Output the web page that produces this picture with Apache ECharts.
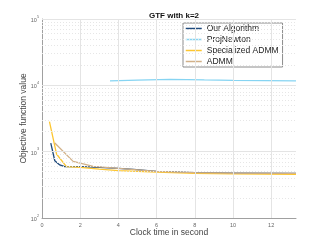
<!DOCTYPE html>
<html>
<head>
<meta charset="utf-8">
<script src="https://cdn.jsdelivr.net/npm/echarts@6/dist/echarts.min.js"></script>
<style>html,body{margin:0;padding:0;background:#fff}#c{width:327px;height:245px}</style>
</head>
<body>
<div id="c"></div>
<script>
var seriesNames = ['Our Algorithm', 'ProjNewton', 'Specialized ADMM', 'ADMM'];
var ourAlgorithm = [[0.46, 1350], [0.67, 730], [0.93, 630], [1.19, 594], [2.0, 597], [3.0, 580], [4.0, 560], [4.8, 540], [6.0, 505], [8.0, 482], [10.0, 476], [13.3, 471]];
var projNewton = [[3.56, 11650], [5.0, 12000], [6.7, 12300], [8.5, 12050], [10.0, 11900], [13.3, 11650]];
var specializedADMM = [[0.39, 2830], [0.76, 923], [1.28, 594], [2.0, 580], [3.0, 545], [4.0, 517], [6.0, 490], [8.0, 470], [10.0, 462], [13.3, 455]];
var admm = [[0.67, 1350], [1.63, 714], [2.68, 600], [4.0, 560], [6.0, 505], [8.0, 482], [10.0, 476], [13.3, 471]];
var xTicks = [0, 2, 4, 6, 8, 10, 12];
var yMajor = [100, 1000, 10000, 100000];
var yMinor = [200, 300, 400, 500, 600, 700, 800, 900, 2000, 3000, 4000, 5000, 6000, 7000, 8000, 9000, 20000, 30000, 40000, 50000, 60000, 70000, 80000, 90000];
var colors = ['#1f4a7c', '#86d4f2', '#fdc630', '#d2b189'];

var chart = echarts.init(document.getElementById('c'), null, {renderer: 'canvas'});
var gridLines = [];
xTicks.slice(1).forEach(function (v) { gridLines.push({xAxis: v, lineStyle: {color: '#e4e4e4', type: 'solid', width: 1}}); });
yMajor.slice(1).forEach(function (v) { gridLines.push({yAxis: v, lineStyle: {color: '#e4e4e4', type: 'solid', width: 1}}); });
yMinor.forEach(function (v) { gridLines.push({yAxis: v, lineStyle: {color: '#e6e6e6', type: [1, 2], width: 1}}); });

function lineSeries(name, data, color) {
  return {
    name: name, type: 'line', data: data, showSymbol: false, symbol: 'none',
    lineStyle: {color: color, width: 1.3}, itemStyle: {color: color}, animation: false, z: 3
  };
}

chart.setOption({
  animation: false,
  title: {
    text: 'GTF with k=2', left: 169, top: 7, textAlign: 'center',
    textStyle: {fontFamily: 'Liberation Sans', fontSize: 8, fontWeight: 'bold', color: '#111'}
  },
  legend: {
    data: seriesNames, orient: 'vertical', left: 183, top: 23,
    itemWidth: 16, itemHeight: 2, itemGap: 2, padding: [1, 4, 1, 2],
    backgroundColor: '#fff', borderColor: '#8c8c8c', borderWidth: 1,
    itemStyle: {opacity: 0},
    lineStyle: {width: 1.5},
    textStyle: {fontFamily: 'Liberation Sans', fontSize: 8.5, color: '#222', lineHeight: 8}
  },
  grid: {left: 42, right: 31, top: 19, bottom: 27, containLabel: false},
  xAxis: {
    type: 'value', min: 0, max: 13.3, interval: 2,
    name: 'Clock time in second', nameLocation: 'middle', nameGap: 10, nameMoveOverlap: false,
    nameTextStyle: {fontFamily: 'Liberation Sans', fontSize: 8.5, color: '#444'},
    axisLine: {show: true, lineStyle: {color: '#a0a0a0', width: 1}},
    axisTick: {show: true, inside: true, length: 2, lineStyle: {color: '#a0a0a0'}},
    axisLabel: {fontFamily: 'Liberation Sans', fontSize: 5.5, color: '#666', margin: 4, showMaxLabel: false},
    splitLine: {show: false}
  },
  yAxis: {
    type: 'log', logBase: 10, min: 100, max: 100000,
    name: 'Objective function value', nameLocation: 'middle', nameGap: 14, nameMoveOverlap: false,
    nameTextStyle: {fontFamily: 'Liberation Sans', fontSize: 8.5, color: '#444'},
    axisLine: {show: true, lineStyle: {color: '#a0a0a0', width: 1}},
    axisTick: {show: true, inside: true, length: 2, lineStyle: {color: '#a0a0a0'}},
    axisLabel: {
      margin: 3,
      formatter: function (v) { return '{b|10}{s|' + Math.round(Math.log10(v)) + '}'; },
      rich: {
        b: {fontSize: 5.5, lineHeight: 9, verticalAlign: 'bottom', color: '#666', fontFamily: 'Liberation Sans'},
        s: {fontSize: 3.8, lineHeight: 9, verticalAlign: 'top', color: '#666', fontFamily: 'Liberation Sans'}
      }
    },
    splitLine: {show: false}
  },
  series: [
    {
      name: 'grid', type: 'line', data: [], silent: true, z: 1,
      markLine: {silent: true, symbol: 'none', label: {show: false}, animation: false, data: gridLines}
    },
    lineSeries(seriesNames[0], ourAlgorithm, colors[0]),
    lineSeries(seriesNames[1], projNewton, colors[1]),
    lineSeries(seriesNames[2], specializedADMM, colors[2]),
    lineSeries(seriesNames[3], admm, colors[3])
  ]
});
</script>
</body>
</html>
